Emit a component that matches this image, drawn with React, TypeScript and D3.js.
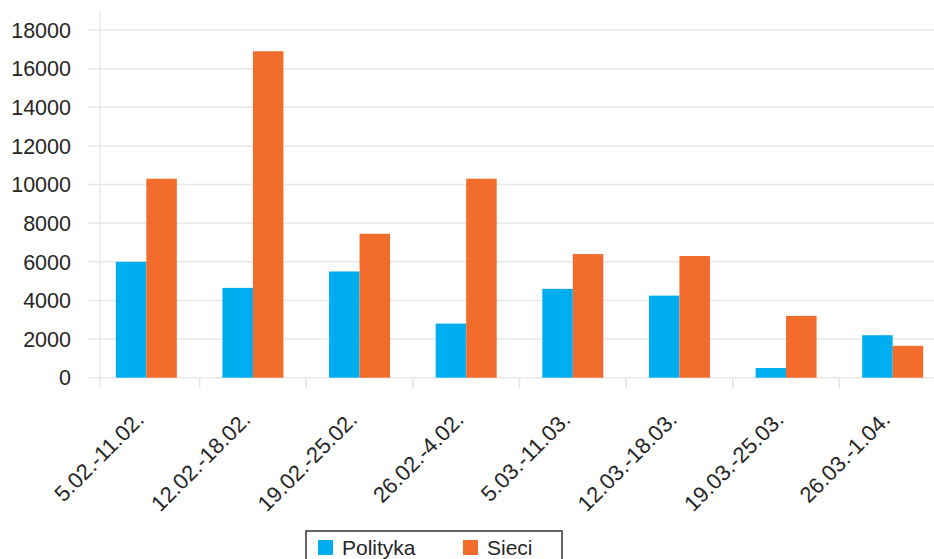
import React, { useCallback, useEffect } from "react";
import * as d3 from "d3";

const categories = [
  "5.02.-11.02.",
  "12.02.-18.02.",
  "19.02.-25.02.",
  "26.02.-4.02.",
  "5.03.-11.03.",
  "12.03.-18.03.",
  "19.03.-25.03.",
  "26.03.-1.04."
];
const polityka = [6000, 4650, 5500, 2800, 4600, 4250, 500, 2200];
const sieci = [10300, 16900, 7450, 10300, 6400, 6300, 3200, 1650];
const seriesNames = ["Polityka", "Sieci"];
const yTicks = [0, 2000, 4000, 6000, 8000, 10000, 12000, 14000, 16000, 18000];

const colors = ["#00aeef", "#f26d2b"];
const font = "'Liberation Sans', Arial, sans-serif";

function App() {
  const width = 934;
  const height = 559;
  const axisX = 100;

  const drawChart = useCallback(() => {
    d3.select("#chart").select("svg").remove();

    const svg = d3
      .select("#chart")
      .append("svg")
      .attr("width", width)
      .attr("height", height)
      .style("display", "block")
      .style("font-family", font);

    const x = d3
      .scaleBand()
      .domain(categories)
      .range([93, 946])
      .paddingInner(0.428)
      .paddingOuter(0.214);

    const inner = d3
      .scaleBand()
      .domain(seriesNames)
      .range([0, x.bandwidth()]);

    const y = d3.scaleLinear().domain([0, 18000]).range([377.7, 30]);

    // gridlines
    svg
      .append("g")
      .selectAll("line")
      .data(yTicks)
      .enter()
      .append("line")
      .attr("x1", 88)
      .attr("x2", width)
      .attr("y1", (d) => y(d))
      .attr("y2", (d) => y(d))
      .attr("stroke", "#e8e8e8")
      .attr("stroke-width", 1.5);

    // y axis line
    svg
      .append("line")
      .attr("x1", axisX)
      .attr("x2", axisX)
      .attr("y1", 11)
      .attr("y2", 388)
      .attr("stroke", "#e8e8e8")
      .attr("stroke-width", 1.5);

    // category separators
    const step = x.step();
    svg
      .append("g")
      .selectAll("line")
      .data(categories.slice(0, -1))
      .enter()
      .append("line")
      .attr("x1", (d) => (x(d) as number) + x.bandwidth() + (step - x.bandwidth()) / 2)
      .attr("x2", (d) => (x(d) as number) + x.bandwidth() + (step - x.bandwidth()) / 2)
      .attr("y1", y(0))
      .attr("y2", 388)
      .attr("stroke", "#e3e3e3")
      .attr("stroke-width", 1.5);

    // y labels
    svg
      .append("g")
      .selectAll("text")
      .data(yTicks)
      .enter()
      .append("text")
      .attr("x", 71)
      .attr("y", (d) => y(d))
      .attr("dy", "0.36em")
      .attr("text-anchor", "end")
      .style("font-size", "21.5px")
      .style("fill", "#262626")
      .text((d) => d);

    // bars
    const rows = categories.map((c, i) => ({ c, vals: [polityka[i], sieci[i]] }));
    const group = svg
      .append("g")
      .selectAll("g")
      .data(rows)
      .enter()
      .append("g")
      .attr("transform", (d) => `translate(${x(d.c)},0)`);

    group
      .selectAll("rect")
      .data((d) => d.vals.map((v, k) => ({ name: seriesNames[k], v, k })))
      .enter()
      .append("rect")
      .attr("x", (d) => inner(d.name) as number)
      .attr("width", inner.bandwidth())
      .attr("y", (d) => y(d.v))
      .attr("height", (d) => y(0) - y(d.v))
      .style("fill", (d) => colors[d.k]);

    // x labels
    svg
      .append("g")
      .selectAll("text")
      .data(categories)
      .enter()
      .append("text")
      .attr("text-anchor", "end")
      .style("font-size", "22px")
      .style("fill", "#262626")
      .attr("transform", (d) => {
        const cx = (x(d) as number) + x.bandwidth() / 2 - 1;
        return `translate(${cx}, 421) rotate(-45)`;
      })
      .text((d) => d);

    // legend (box runs past the bottom edge, as in the source)
    const legend = svg.append("g");
    legend
      .append("rect")
      .attr("x", 306)
      .attr("y", 531)
      .attr("width", 256)
      .attr("height", 40)
      .style("fill", "#fff")
      .style("stroke", "#333")
      .style("stroke-width", 1.5);

    const legendX = [318, 463];
    seriesNames.forEach((name, k) => {
      legend
        .append("rect")
        .attr("x", legendX[k])
        .attr("y", 540)
        .attr("width", 15)
        .attr("height", 15)
        .style("fill", colors[k]);
      legend
        .append("text")
        .attr("x", legendX[k] + 24)
        .attr("y", 555)
        .style("font-size", "21px")
        .style("fill", "#262626")
        .text(name);
    });
  }, [width, height]);

  useEffect(() => {
    drawChart();
  }, [drawChart]);

  return (
    <div
      id="chart"
      style={{ position: "absolute", left: 0, top: 0, width, height, background: "#fff" }}
    />
  );
}

export default App;
